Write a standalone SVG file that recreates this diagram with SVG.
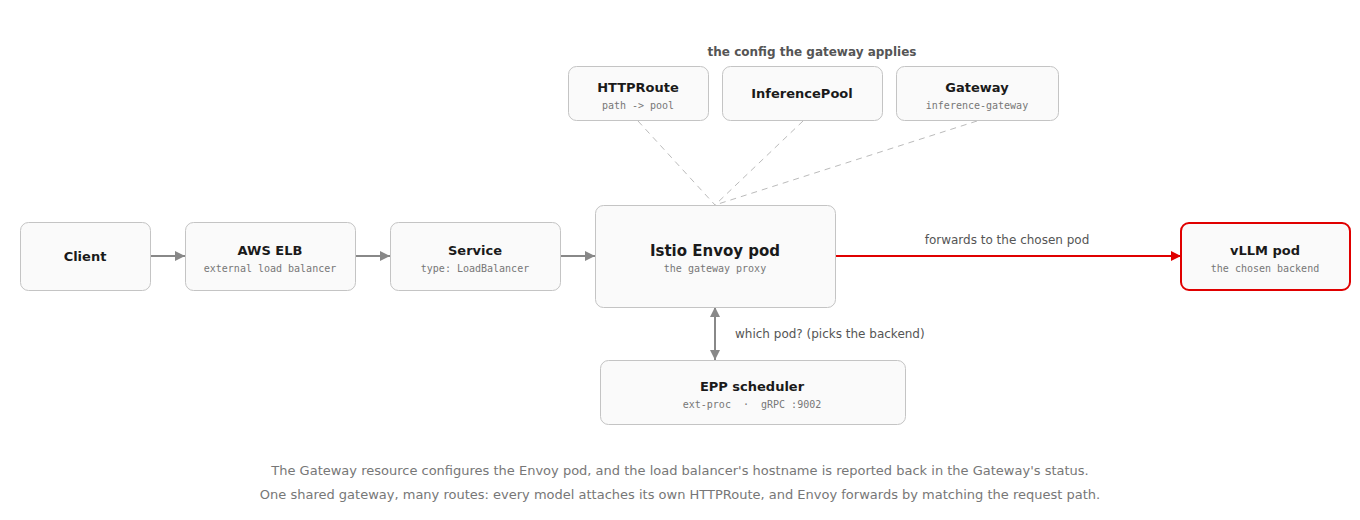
<svg xmlns="http://www.w3.org/2000/svg" width="1360" height="520" viewBox="0 0 1360 520">
<defs>
<style>
.box{fill:#fafafa;stroke:#c4c4c4;stroke-width:1}
.hot{fill:#fafafa;stroke:#e00000;stroke-width:2}
.t{font-family:"DejaVu Sans",Verdana,sans-serif;font-weight:bold;font-size:13px;fill:#1a1a1a;text-anchor:middle}
.tb{font-family:"DejaVu Sans",Verdana,sans-serif;font-weight:bold;font-size:15px;fill:#1a1a1a;text-anchor:middle}
.s{font-family:"DejaVu Sans Mono",monospace;font-size:10px;fill:#777;text-anchor:middle}
.lbl{font-family:"DejaVu Sans",Verdana,sans-serif;font-size:12px;fill:#555}
.hdr{font-family:"DejaVu Sans",Verdana,sans-serif;font-weight:bold;font-size:12px;fill:#555;text-anchor:middle}
.foot{font-family:"DejaVu Sans",Verdana,sans-serif;font-size:13px;fill:#777;text-anchor:middle}
.c{stroke:#888;stroke-width:2;fill:none}
.r{stroke:#e00000;stroke-width:2;fill:none}
.d{stroke:#bbb;stroke-width:1;stroke-dasharray:6 5;fill:none}
</style>
<marker id="ag" viewBox="0 0 10 10" refX="10" refY="5" markerWidth="5" markerHeight="5" orient="auto-start-reverse" markerUnits="strokeWidth"><path d="M0,0 L10,5 L0,10 z" fill="#888"/></marker>
<marker id="ar" viewBox="0 0 10 10" refX="10" refY="5" markerWidth="5" markerHeight="5" orient="auto" markerUnits="strokeWidth"><path d="M0,0 L10,5 L0,10 z" fill="#e00000"/></marker>
</defs>
<rect width="1360" height="520" fill="#fff"/>
<text class="hdr" x="812" y="56">the config the gateway applies</text>
<g id="connectors">
<line class="d" x1="638" y1="121" x2="715" y2="205"/>
<line class="d" x1="803" y1="121" x2="715" y2="205"/>
<line class="d" x1="977" y1="121" x2="715" y2="205"/>
<line class="c" x1="150" y1="256" x2="185" y2="256" marker-end="url(#ag)"/>
<line class="c" x1="355" y1="256" x2="390" y2="256" marker-end="url(#ag)"/>
<line class="c" x1="560" y1="256" x2="595" y2="256" marker-end="url(#ag)"/>
<line class="r" x1="835" y1="256" x2="1181" y2="256" marker-end="url(#ar)"/>
<text class="lbl" x="1007" y="244" text-anchor="middle">forwards to the chosen pod</text>
<line class="c" x1="715" y1="307" x2="715" y2="360" marker-start="url(#ag)" marker-end="url(#ag)"/>
<text class="lbl" x="735" y="338">which pod? (picks the backend)</text>
</g>
<g id="httproute"><rect class="box" x="568.5" y="66.5" width="140" height="54" rx="8"/><text class="t" x="638" y="92">HTTPRoute</text><text class="s" x="638" y="109">path -&gt; pool</text></g>
<g id="inferencepool"><rect class="box" x="722.5" y="66.5" width="160" height="54" rx="8"/><text class="t" x="802" y="98">InferencePool</text></g>
<g id="gateway"><rect class="box" x="896.5" y="66.5" width="162" height="54" rx="8"/><text class="t" x="977" y="92">Gateway</text><text class="s" x="977" y="109">inference-gateway</text></g>
<g id="client"><rect class="box" x="20.5" y="222.5" width="130" height="68" rx="8"/><text class="t" x="85" y="261">Client</text></g>
<g id="elb"><rect class="box" x="185.5" y="222.5" width="170" height="68" rx="8"/><text class="t" x="270" y="255">AWS ELB</text><text class="s" x="270" y="272">external load balancer</text></g>
<g id="service"><rect class="box" x="390.5" y="222.5" width="170" height="68" rx="8"/><text class="t" x="475" y="255">Service</text><text class="s" x="475" y="272">type: LoadBalancer</text></g>
<g id="envoy"><rect class="box" x="595.5" y="205.5" width="240" height="102" rx="8"/><text class="tb" x="715" y="256">Istio Envoy pod</text><text class="s" x="715" y="272">the gateway proxy</text></g>
<g id="vllm"><rect class="hot" x="1181" y="223" width="169" height="67" rx="8"/><text class="t" x="1265" y="255">vLLM pod</text><text class="s" x="1265" y="272">the chosen backend</text></g>
<g id="epp"><rect class="box" x="600.5" y="360.5" width="305" height="64" rx="8"/><text class="t" x="752" y="391">EPP scheduler</text><text class="s" x="752" y="408" xml:space="preserve">ext-proc  ·  gRPC :9002</text></g>
<text class="foot" x="680" y="475">The Gateway resource configures the Envoy pod, and the load balancer's hostname is reported back in the Gateway's status.</text>
<text class="foot" x="680" y="499">One shared gateway, many routes: every model attaches its own HTTPRoute, and Envoy forwards by matching the request path.</text>
</svg>
